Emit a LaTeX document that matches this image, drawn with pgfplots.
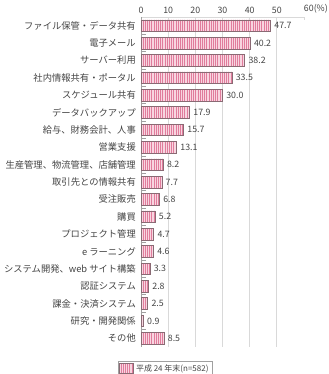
\documentclass[border=0pt]{standalone}
\usepackage{fontspec}
\setmainfont{Noto Sans CJK JP}
\usepackage{pgfplots}
\pgfplotsset{compat=1.18}
\usetikzlibrary{patterns.meta}
\definecolor{barfill}{HTML}{F8D5E0}
\definecolor{barstripe}{HTML}{E07C9C}
\definecolor{bardraw}{HTML}{8A6A74}
\definecolor{txt}{HTML}{444444}
\definecolor{gridc}{HTML}{D9D9D9}
\definecolor{axc}{HTML}{A0A0A0}
\begin{document}
\begin{tikzpicture}
\useasboundingbox (0,0) rectangle (329bp,374bp);
\begin{axis}[
  at={(141bp,27bp)}, anchor=south west,
  scale only axis, width=163bp, height=330bp,
  xbar, bar width=0.67,
  xmin=0, xmax=60, ymin=-0.5, ymax=18.5, y dir=reverse,
  axis x line*=top, axis y line*=left,
  x axis line style={gridc, line width=0.8bp},
  y axis line style={axc, line width=0.8bp},
  xtick={0,10,...,50},
  extra x ticks={60},
  extra x tick labels={\rlap{60(\%)}},
  extra x tick style={grid=none},
  xmajorgrids, grid style={gridc, line width=0.8bp},
  tick align=inside,
  x tick style={gridc, line width=0.8bp},
  major tick length=3bp,
  ytick={0,...,18},
  y tick style={draw=none},
  minor ytick={0.5,1.5,...,17.5},
  minor y tick style={draw=axc, line width=0.8bp},
  minor tick length=5bp,
  yticklabels={{ファイル保管・データ共有},{電子メール},{サーバー利用},{社内情報共有・ポータル},{スケジュール共有},{データバックアップ},{給与、財務会計、人事},{営業支援},{生産管理、物流管理、店舗管理},{取引先との情報共有},{受注販売},{購買},{プロジェクト管理},{e ラーニング},{システム開発、web サイト構築},{認証システム},{課金・決済システム},{研究・開発関係},{その他}},
  yticklabel style={font=\fontsize{9.3bp}{10bp}\selectfont, color=txt, inner sep=0pt, xshift=-5bp},
  xticklabel style={font=\fontsize{8.8bp}{9bp}\selectfont, color=txt, inner sep=0pt, yshift=3.5bp},
  /pgf/number format/assume math mode=true,
  nodes near coords={\pgfmathprintnumber[fixed,fixed zerofill,precision=1,assume math mode=true]{\pgfplotspointmeta}},
  every node near coord/.append style={anchor=west, font=\fontsize{8.8bp}{9bp}\selectfont, color=txt, inner sep=0pt, xshift=3.5bp},
  legend style={at={(0.147,-0.066)}, anchor=center, draw=axc, font=\fontsize{8bp}{9bp}\selectfont, text=txt, inner sep=1.5bp, row sep=0pt},
  legend image code/.code={\draw[#1] (0bp,-4.5bp) rectangle (14bp,5bp);},
  clip=false,
]
\addplot[preaction={fill=barfill}, pattern={Lines[angle=90,distance=2.2bp,line width=0.9bp]}, pattern color=barstripe, draw=bardraw, line width=0.6bp]
coordinates {
(47.7,0) (40.2,1) (38.2,2) (33.5,3) (30.0,4) (17.9,5) (15.7,6) (13.1,7) (8.2,8) (7.7,9) (6.8,10) (5.2,11) (4.7,12) (4.6,13) (3.3,14) (2.8,15) (2.5,16) (0.9,17) (8.5,18)
};
\addlegendentry{平成 24 年末(n=582)}
\end{axis}
\end{tikzpicture}
\end{document}
